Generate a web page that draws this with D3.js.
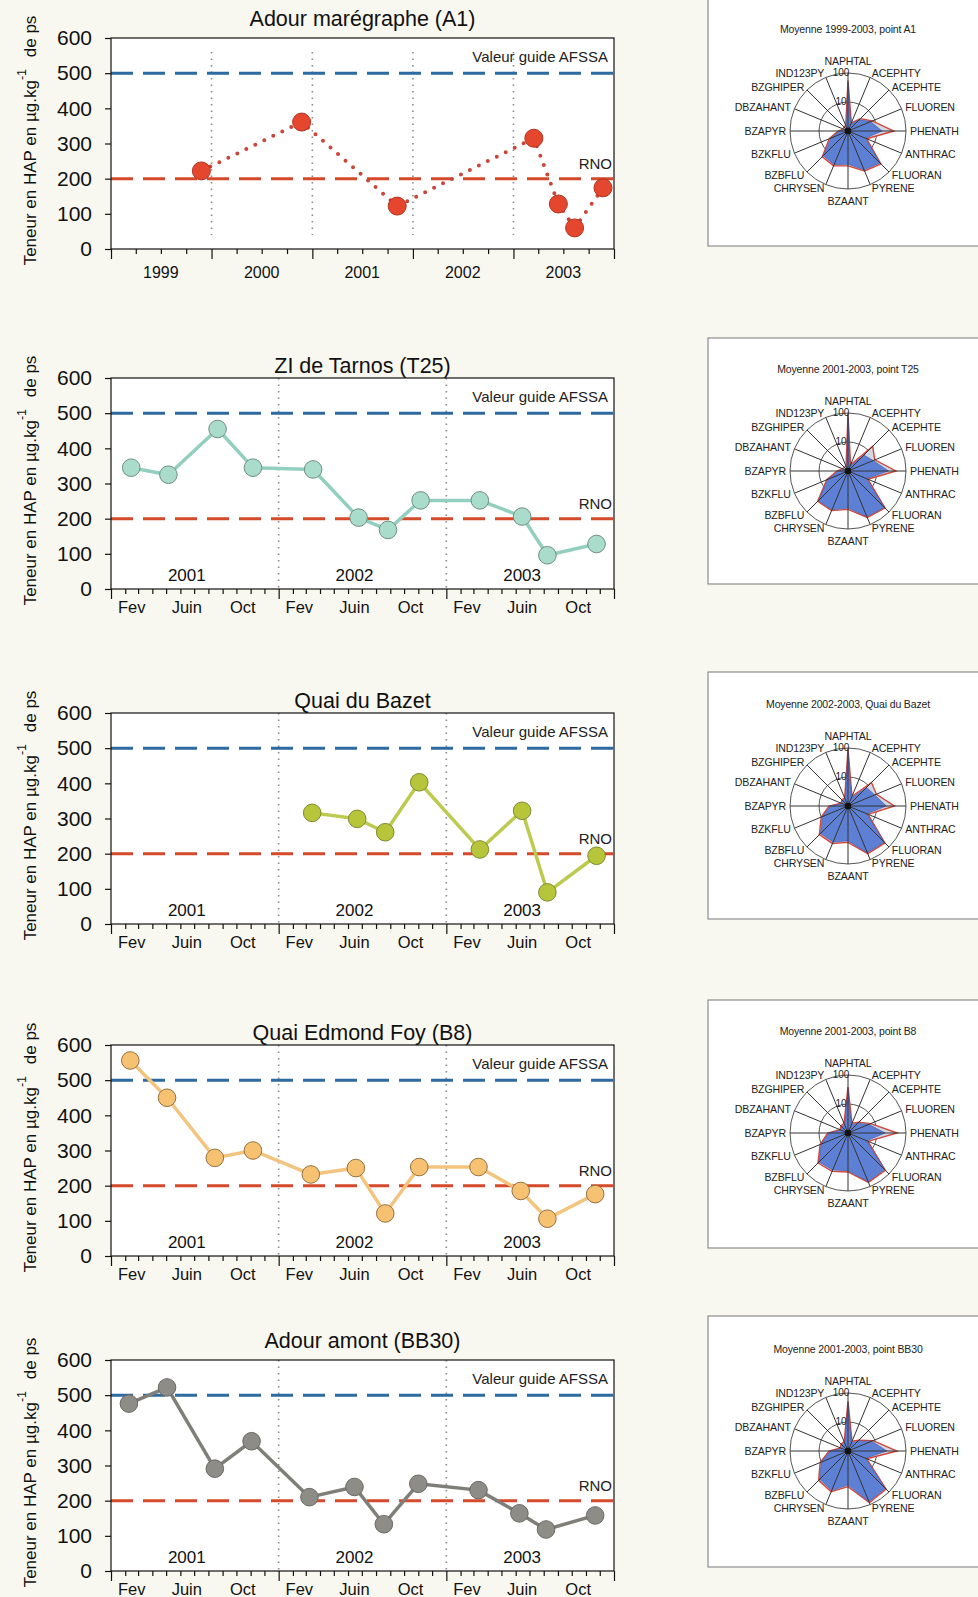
<!DOCTYPE html>
<html>
<head>
<meta charset="utf-8">
<script src="https://cdn.jsdelivr.net/npm/d3@7"></script>
<style>
  body { margin: 0; background: #f9f8f0; }
  svg { display: block; font-family: "Liberation Sans", Arial, sans-serif; }
</style>
</head>
<body>
<div id="chart"></div>
<script>
// ---- values ----
const titles = ["Adour marégraphe (A1)", "ZI de Tarnos (T25)", "Quai du Bazet", "Quai Edmond Foy (B8)", "Adour amont (BB30)"];
const subtitles = ["Moyenne 1999-2003, point A1", "Moyenne 2001-2003, point T25", "Moyenne 2002-2003, Quai du Bazet",
                   "Moyenne 2001-2003,  point B8", "Moyenne 2001-2003, point BB30"];
const yTicks = [0, 100, 200, 300, 400, 500, 600];
const afssaGuide = 500;
const rnoLevel = 200;
const yearsA1 = [1999, 2000, 2001, 2002, 2003];
const yearsMonthly = [2001, 2002, 2003];
const monthNames = ["Fev", "Juin", "Oct"];
const monthIndex = [1, 5, 9];

const a1Dates = ["1999-11-25", "2000-11-23", "2001-11-05", "2003-03-16", "2003-06-13", "2003-08-11", "2003-11-22"];
const a1Values = [222, 361, 122, 315, 128, 60, 174];

const t25Dates = ["2001-02-14", "2001-05-06", "2001-08-21", "2001-11-06", "2002-03-17", "2002-06-24",
                  "2002-08-27", "2002-11-06", "2003-03-15", "2003-06-15", "2003-08-09", "2003-11-24"];
const t25Values = [345, 325, 455, 345, 340, 203, 168, 252, 252, 206, 96, 128];

const bazetDates = ["2002-03-15", "2002-06-21", "2002-08-21", "2002-11-03", "2003-03-15", "2003-06-15", "2003-08-09", "2003-11-24"];
const bazetValues = [316, 299, 261, 403, 212, 322, 90, 194];

const b8Dates = ["2001-02-12", "2001-05-03", "2001-08-15", "2001-11-06", "2002-03-12", "2002-06-18",
                 "2002-08-21", "2002-11-03", "2003-03-12", "2003-06-12", "2003-08-09", "2003-11-21"];
const b8Values = [556, 450, 279, 300, 232, 250, 121, 253, 253, 185, 106, 176];

const bb30Dates = ["2001-02-09", "2001-05-03", "2001-08-15", "2001-11-03", "2002-03-09", "2002-06-15",
                   "2002-08-18", "2002-11-01", "2003-03-12", "2003-06-09", "2003-08-06", "2003-11-21"];
const bb30Values = [476, 522, 291, 369, 210, 239, 133, 248, 230, 164, 118, 158];

// radar : 16 HAP, log scale 1..100
const hapNames = ["NAPHTAL", "ACEPHTY", "ACEPHTE", "FLUOREN", "PHENATH", "ANTHRAC", "FLUORAN", "PYRENE",
                  "BZAANT", "CHRYSEN", "BZBFLU", "BZKFLU", "BZAPYR", "DBZAHANT", "BZGHIPER", "IND123PY"];
const radarRings = [10, 100];
const radarA1Fill = [45, 1.8, 3.5, 7, 15, 4.5, 36, 28, 14, 18, 16, 4.3, 2, 1.3, 1.4, 1.4];
const radarA1Outline = [55, 2, 4, 8, 38, 5, 40, 31, 16, 20, 18, 5, 2.2, 1.5, 1.6, 1.6];
const radarT25Fill = [70, 1.5, 6, 8.7, 25, 4.9, 60, 50, 19, 28, 28, 5.5, 2.1, 1.4, 1.3, 1.3];
const radarT25Outline = [88, 1.7, 16, 10, 45, 5.5, 64, 54, 21, 30, 30, 6.2, 2.4, 1.6, 1.5, 1.5];
const radarBazetFill = [70, 2, 8, 10, 21, 5, 58, 55, 16, 22, 22, 9, 4, 1.6, 1.8, 1.8];
const radarBazetOutline = [90, 2.3, 14, 11.5, 40, 5.6, 63, 60, 18, 25, 25, 10, 4.5, 1.8, 2, 2];
const radarB8Fill = [30, 2, 3, 6, 19, 5, 60, 65, 20, 24, 26, 10, 4.5, 1.8, 2, 2];
const radarB8Outline = [38, 2.3, 3.4, 7, 50, 5.6, 66, 70, 22, 27, 29, 11, 5, 2, 2.2, 2.3];
const radarBB30Fill = [40, 2, 3, 7.7, 22, 4.5, 66, 78, 15, 30, 24, 10, 4, 1.7, 2, 2];
const radarBB30Outline = [52, 2.3, 3.4, 8.6, 49, 5, 72, 85, 17, 33, 27, 11, 4.5, 1.9, 2.2, 2.2];

// ---- layout ----
const W = 978, H = 1597;
const plotLeft = 111, plotRight = 614, plotH = 211;
const plotTops = [38, 378, 713, 1045, 1360];
const titleGaps = [12, 5, 5, 5, 12];
const boxTops = [-6, 338, 672, 1000, 1316];
const boxHeights = [252, 246, 247, 248, 251];
const radarCx = 848;
const radarCy = [131, 471, 806, 1133, 1451];
const radarR = 58;

const styles = [
  { line: "#c8463a", dotted: true, fill: "#e4472d", stroke: "#b0321f", r: 9 },
  { line: "#93cfbf", fill: "#a9dccb", stroke: "#6e8e84", r: 8.8 },
  { line: "#bccb50", fill: "#b7c53b", stroke: "#7e8a2c", r: 8.8 },
  { line: "#f3c47e", fill: "#f6c272", stroke: "#94703f", r: 8.8 },
  { line: "#7f7e79", fill: "#8d8c86", stroke: "#6a6964", r: 8.8 }
];

const parse = d3.timeParse("%Y-%m-%d");
const svg = d3.select("#chart").append("svg").attr("width", W).attr("height", H);

function drawPanel(k, dates, values, yearly) {
  const top = plotTops[k], bottom = top + plotH;
  const st = styles[k];
  const years = yearly ? yearsA1 : yearsMonthly;
  const x = d3.scaleTime()
    .domain([new Date(years[0], 0, 1), new Date(years[years.length - 1] + 1, 0, 1)])
    .range([plotLeft, plotRight]);
  const y = d3.scaleLinear().domain([0, 600]).range([bottom, top]);
  const g = svg.append("g");

  g.append("rect")
    .attr("x", plotLeft).attr("y", top)
    .attr("width", plotRight - plotLeft).attr("height", plotH)
    .attr("fill", "#fff");

  // year separators
  const sepTop = yearly ? y(560) : top, sepBottom = yearly ? y(40) : bottom;
  g.selectAll("line.sep")
    .data(years.slice(1))
    .enter().append("line")
    .attr("x1", d => x(new Date(d, 0, 1))).attr("x2", d => x(new Date(d, 0, 1)))
    .attr("y1", sepTop).attr("y2", sepBottom)
    .attr("stroke", "#8a8a8a").attr("stroke-width", 1.6)
    .attr("stroke-dasharray", "1.5,5");

  // guide lines
  g.append("line")
    .attr("x1", plotLeft).attr("x2", plotRight)
    .attr("y1", y(afssaGuide)).attr("y2", y(afssaGuide))
    .attr("stroke", "#2d6a9f").attr("stroke-width", 3)
    .attr("stroke-dasharray", "22,10");
  g.append("line")
    .attr("x1", plotLeft).attr("x2", plotRight)
    .attr("y1", y(rnoLevel)).attr("y2", y(rnoLevel))
    .attr("stroke", "#d44a2a").attr("stroke-width", 3)
    .attr("stroke-dasharray", "22,10");
  g.append("text")
    .attr("x", plotRight - 6).attr("y", y(afssaGuide) - 11)
    .attr("text-anchor", "end").attr("font-size", 15).attr("fill", "#222")
    .text("Valeur guide AFSSA");
  g.append("text")
    .attr("x", plotRight - 2).attr("y", y(rnoLevel) - 10)
    .attr("text-anchor", "end").attr("font-size", 15).attr("fill", "#222")
    .text("RNO");

  // series
  const pts = dates.map((d, i) => ({ date: parse(d), value: values[i] }));
  const line = d3.line().x(d => x(d.date)).y(d => y(d.value));
  const path = g.append("path")
    .attr("d", line(pts))
    .attr("fill", "none")
    .attr("stroke", st.line);
  if (st.dotted) {
    path.attr("stroke-width", 4).attr("stroke-linecap", "round").attr("stroke-dasharray", "0,10");
  } else {
    path.attr("stroke-width", 3.5).attr("stroke-linejoin", "round");
  }
  g.selectAll("circle.pt")
    .data(pts)
    .enter().append("circle")
    .attr("cx", d => x(d.date)).attr("cy", d => y(d.value))
    .attr("r", st.r)
    .attr("fill", st.fill).attr("stroke", st.stroke).attr("stroke-width", 1);

  // frame
  g.append("rect")
    .attr("x", plotLeft).attr("y", top)
    .attr("width", plotRight - plotLeft).attr("height", plotH)
    .attr("fill", "none").attr("stroke", "#111").attr("stroke-width", 1.2);

  // y axis
  const ya = g.append("g")
    .attr("transform", "translate(" + plotLeft + ",0)")
    .call(d3.axisLeft(y).tickValues(yTicks).tickSize(6).tickSizeOuter(0).tickPadding(13));
  ya.select(".domain").remove();
  ya.selectAll("line").attr("stroke", "#111").attr("stroke-width", 1.2);
  ya.selectAll("text").attr("font-size", 21).attr("fill", "#111")
    .attr("font-family", "Liberation Sans, Arial, sans-serif");

  // x axis ticks
  const tickDates = yearly
    ? d3.timeMonth.every(3).range(x.domain()[0], new Date(years[years.length - 1] + 1, 0, 2))
    : d3.timeMonth.range(x.domain()[0], new Date(years[years.length - 1] + 1, 0, 2));
  const xa = g.append("g")
    .attr("transform", "translate(0," + bottom + ")")
    .call(d3.axisBottom(x).tickValues(tickDates).tickSize(5).tickSizeOuter(0).tickFormat(""));
  xa.select(".domain").remove();
  xa.selectAll("line").attr("stroke", "#111").attr("stroke-width", 1.2);
  xa.selectAll(".tick").filter(d => d.getMonth() === 0).select("line").attr("y2", 10);

  if (yearly) {
    g.selectAll("text.yr")
      .data(years)
      .enter().append("text")
      .attr("x", d => x(new Date(d, 6, 1))).attr("y", bottom + 29)
      .attr("text-anchor", "middle").attr("font-size", 16).attr("fill", "#111")
      .text(d => d);
  } else {
    const labels = [];
    years.forEach(yr => monthIndex.forEach((m, j) => labels.push({ date: new Date(yr, m, 15), name: monthNames[j] })));
    g.selectAll("text.mo")
      .data(labels)
      .enter().append("text")
      .attr("x", d => x(d.date)).attr("y", bottom + 24)
      .attr("text-anchor", "middle").attr("font-size", 16.5).attr("fill", "#111")
      .text(d => d.name);
    g.selectAll("text.yr")
      .data(years)
      .enter().append("text")
      .attr("x", d => x(new Date(d, 5, 15))).attr("y", bottom - 8)
      .attr("text-anchor", "middle").attr("font-size", 17).attr("fill", "#111")
      .text(d => d);
  }

  // title
  g.append("text")
    .attr("x", (plotLeft + plotRight) / 2).attr("y", top - titleGaps[k])
    .attr("text-anchor", "middle").attr("font-size", 21.5).attr("fill", "#111")
    .text(titles[k]);

  // y label
  const yl = g.append("text")
    .attr("transform", "translate(36," + (top + plotH / 2 - 3) + ") rotate(-90)")
    .attr("text-anchor", "middle").attr("font-size", 17).attr("fill", "#111");
  yl.append("tspan").text("Teneur en HAP en µg.kg");
  yl.append("tspan").attr("dy", -10).attr("font-size", 12.5).text("-1");
  yl.append("tspan").attr("dy", 10).attr("dx", 7).text(" de ps");
}

function drawRadar(k, fillVals, outlineVals) {
  const cy = radarCy[k];
  svg.append("rect")
    .attr("x", 708).attr("y", boxTops[k])
    .attr("width", 300).attr("height", boxHeights[k])
    .attr("fill", "#fff").attr("stroke", "#8c8c8c").attr("stroke-width", 1.2);
  svg.append("text")
    .attr("x", radarCx).attr("y", cy - 98)
    .attr("text-anchor", "middle").attr("font-size", 10.5).attr("letter-spacing", -0.15).attr("fill", "#222")
    .text(subtitles[k]);

  const r = d3.scaleLog().domain([1, 100]).range([0, radarR]).clamp(true);
  const ang = d3.scaleLinear().domain([0, hapNames.length]).range([0, 2 * Math.PI]);
  const g = svg.append("g").attr("transform", "translate(" + radarCx + "," + cy + ")");

  g.selectAll("circle.ring")
    .data(radarRings)
    .enter().append("circle")
    .attr("r", d => r(d))
    .attr("fill", "none").attr("stroke", "#555").attr("stroke-width", 1);

  const radial = d3.lineRadial()
    .angle((d, i) => ang(i))
    .radius(d => r(d))
    .curve(d3.curveLinearClosed);
  g.append("path").attr("d", radial(outlineVals))
    .attr("fill", "#d3d7e2").attr("stroke", "#d5453b").attr("stroke-width", 1.4);
  g.append("path").attr("d", radial(fillVals))
    .attr("fill", "#5e80d4").attr("stroke", "#3c56a6").attr("stroke-width", 0.6);

  g.selectAll("line.spoke")
    .data(hapNames)
    .enter().append("line")
    .attr("x2", (d, i) => radarR * Math.sin(ang(i)))
    .attr("y2", (d, i) => -radarR * Math.cos(ang(i)))
    .attr("stroke", "#333").attr("stroke-width", 1);
  g.append("circle").attr("r", 3.2).attr("fill", "#111");

  g.selectAll("text.ringlab")
    .data(radarRings)
    .enter().append("text")
    .attr("x", -7).attr("y", d => -r(d) + 3)
    .attr("text-anchor", "middle").attr("font-size", 10).attr("fill", "#222")
    .text(d => d);

  g.selectAll("text.hap")
    .data(hapNames)
    .enter().append("text")
    .attr("x", (d, i) => 62 * Math.sin(ang(i)))
    .attr("y", (d, i) => {
      const c = Math.cos(ang(i));
      return -62 * c + (c > 0.95 ? -8 : c < -0.95 ? 8 : 0);
    })
    .attr("dy", "0.35em")
    .attr("text-anchor", (d, i) => {
      const s = Math.sin(ang(i));
      return s > 0.1 ? "start" : s < -0.1 ? "end" : "middle";
    })
    .attr("font-size", 10.6).attr("letter-spacing", -0.15).attr("fill", "#222")
    .text(d => d);
}

drawPanel(0, a1Dates, a1Values, true);
drawPanel(1, t25Dates, t25Values, false);
drawPanel(2, bazetDates, bazetValues, false);
drawPanel(3, b8Dates, b8Values, false);
drawPanel(4, bb30Dates, bb30Values, false);

drawRadar(0, radarA1Fill, radarA1Outline);
drawRadar(1, radarT25Fill, radarT25Outline);
drawRadar(2, radarBazetFill, radarBazetOutline);
drawRadar(3, radarB8Fill, radarB8Outline);
drawRadar(4, radarBB30Fill, radarBB30Outline);
</script>
</body>
</html>
